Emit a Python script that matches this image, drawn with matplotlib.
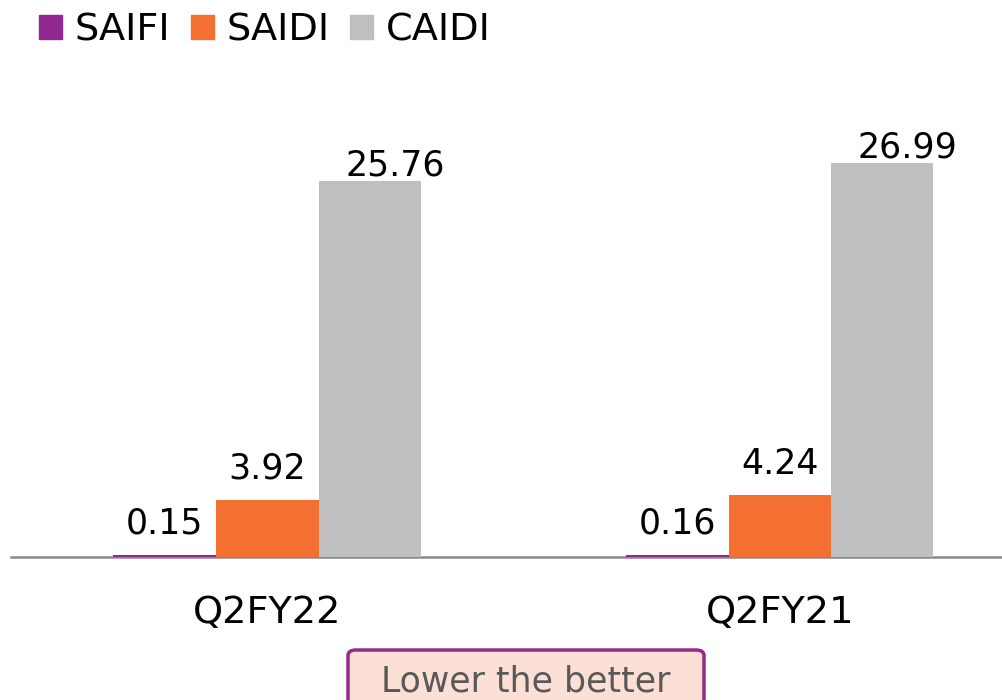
import matplotlib.pyplot as plt
import matplotlib.patches as mpatches
from matplotlib.patches import FancyBboxPatch
import numpy as np

quarters = ["Q2FY22", "Q2FY21"]
series = ["SAIFI", "SAIDI", "CAIDI"]
saifi = [0.15, 0.16]
saidi = [3.92, 4.24]
caidi = [25.76, 26.99]

COLORS = {"SAIFI": "#92278F", "SAIDI": "#F37032", "CAIDI": "#BFBFBF"}
# label offsets (points) per series, as placed in the original
LABEL_OFFSET = {"SAIFI": (0, 15), "SAIDI": (0, 15), "CAIDI": (18, 4)}

plt.rcParams.update({"font.family": "DejaVu Sans"})

W, H = 1002, 700
fig = plt.figure(figsize=(W / 100, H / 100), dpi=100)
# axes: baseline at y=557 px, left edge at x=11 px
ax = fig.add_axes([11 / W, (H - 557) / H, 1025 / W, 438 / H])

x = np.arange(len(quarters))
bw = 0.2
vals = [saifi, saidi, caidi]
for i, (name, v) in enumerate(zip(series, vals)):
    bars = ax.bar(x + (i - 1) * bw, v, width=bw, color=COLORS[name],
                  label=name, zorder=3)
    for b, val in zip(bars, v):
        ax.annotate(f"{val:.2f}", (b.get_x() + b.get_width() / 2, val),
                    xytext=LABEL_OFFSET[name], textcoords="offset points",
                    ha="center", va="baseline", fontsize=25, color="#000000")

ax.set_xlim(-0.5, 1.5)
ax.set_ylim(0, 30)
ax.set_xticks(x)
ax.set_xticklabels(quarters, fontsize=27.5)
ax.tick_params(axis="x", length=0, pad=27)
ax.set_yticks([])
for s in ["top", "right", "left"]:
    ax.spines[s].set_visible(False)
ax.spines["bottom"].set_color("#898989")
ax.spines["bottom"].set_linewidth(1.8)

handles = [mpatches.Patch(color=COLORS[n], label=n) for n in series]
fig.legend(handles=handles, loc="upper left", bbox_to_anchor=(24 / W, 1.0 + 3 / H),
           ncol=3, frameon=False, fontsize=27.5, handlelength=0.6,
           handleheight=0.6, handletextpad=0.32, columnspacing=0.55,
           borderaxespad=0.0)

# "Lower the better" box
box = FancyBboxPatch((348 / W, -0.05), 356 / W, (700 - 650) / H + 0.05,
                     boxstyle="round,pad=0,rounding_size=0.008",
                     transform=fig.transFigure, facecolor="#FCE0D6",
                     edgecolor="#922B8C", linewidth=2.5)
fig.patches.append(box)
fig.text(526 / W, (700 - 692) / H, "Lower the better", ha="center", va="baseline",
         fontsize=25, color="#595959")

fig.savefig("out.png", dpi=100)
